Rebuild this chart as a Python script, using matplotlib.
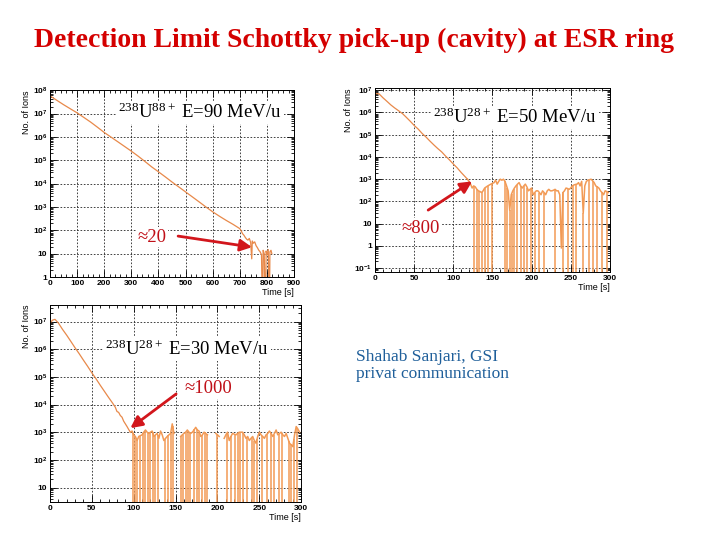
import numpy as np
import matplotlib
matplotlib.use("Agg")
import matplotlib.pyplot as plt
from matplotlib.ticker import (FixedLocator, LogLocator, MultipleLocator,
                               FuncFormatter, NullFormatter)

plt.rcParams["font.family"] = ["Liberation Sans", "DejaVu Sans"]
plt.rcParams["font.weight"] = "bold"
plt.rcParams["mathtext.fontset"] = "custom"
plt.rcParams["mathtext.rm"] = "Liberation Serif:weight=normal"
plt.rcParams["mathtext.it"] = "Liberation Serif:italic:weight=normal"
plt.rcParams["mathtext.bf"] = "Liberation Sans:bold"

D = 0.01  # dropout: signal lost, trace falls below the axis
NA = np.nan  # nothing recorded

# --- 238U88+, E = 90 MeV/u -------------------------------------------------
u90_t = [0, 25, 50, 75, 100, 125, 150, 175, 200, 225, 250, 275, 300, 325, 350,
         375, 400, 425, 450, 475, 500, 525, 550, 575, 600, 625, 650, 675, 700,
         705, 710, 715, 720, 725, 730, 735, 740, 744, 746, 750, 755, 760, 765,
         770, 775, 780, 784, 786, 790, 795, 797, 800, 805, 809, 811, 815, 818]
u90_n = [5.7e7, 3.7e7, 2.4e7, 1.6e7, 1.07e7, 6.8e6, 4.3e6, 2.6e6, 1.55e6, 9.8e5,
         6.2e5, 3.9e5, 2.45e5, 1.5e5, 8.9e4, 5.2e4, 3.2e4, 1.95e4, 1.17e4, 7.2e3,
         4.4e3, 2.7e3, 1.65e3, 1.0e3, 620, 400, 265, 180, 118,
         95, 72, 62, 50, 42, 38, 45, 30, 6, 35, 28, 32, 22, 18,
         14, 12, 9, D, 14, 10, D, 13, 9, 15, D, 12, 14, 10]

# --- 238U28+, E = 50 MeV/u -------------------------------------------------
u50_decay_t = [0, 5, 10, 15, 20, 25, 30, 35, 40, 45, 50, 55, 60, 65, 70, 75, 80,
               85, 90, 95, 100, 105, 110, 115, 118]
u50_decay_n = [7.2e6, 6.9e6, 4.6e6, 3.2e6, 2.2e6, 1.6e6, 1.2e6, 8.9e5, 6.0e5,
               4.0e5, 2.6e5, 1.8e5, 1.15e5, 7.9e4, 5.2e4, 3.5e4, 2.4e4, 1.7e4,
               1.1e4, 7.4e3, 4.8e3, 3.2e3, 2.0e3, 1.3e3, 1.0e3]
u50_noise_t = np.arange(120, 299, 2)
u50_noise_n = [800, 600, 400, 500, 450, 350, 300, 280, 250, 300,
               400, 450, 500, 550, 600, 650, 700, 900, 600, 800,
               1000, 900, 1000, 800, 500, 300, 40, 200, 300, 400,
               500, 600, 700, 500, 400, 500, 600, 450, 300, 350,
               400, 200, 250, 300, 300, 250, 200, 300, 250, 200,
               300, 350, 300, 300, 320, 350, 300, 300, 200, 0.8,
               250, 300, 400, 380, 350, 400, 500, 550, 580, 600,
               700, 500, 800, 30, 500, 800, 900, 950, 1000, 850,
               700, 500, 450, 400, 300, 250, 200, 300, 280, 250]
u50_drop_t = [127, 130, 133, 136.5, 140.5, 144.5, 150, 166, 169, 172, 174.5,
              177.5, 181, 186, 190, 194.5, 199, 204, 210, 216, 230, 240.5, 247,
              253, 256.5, 266, 273.5, 278.5, 283, 289.5, 296]

# --- 238U28+, E = 30 MeV/u -------------------------------------------------
u30_decay_t = [0, 3, 6, 10, 15, 20, 25, 30, 35, 40, 45, 50, 55, 60, 65, 70, 75,
               78, 80, 82, 84, 86, 88, 90, 92, 94, 96]
u30_decay_n = [8.7e6, 1.12e7, 1.2e7, 8.9e6, 5.2e6, 3.2e6, 1.9e6, 1.12e6, 6.8e5,
               4.0e5, 2.4e5, 1.4e5, 8.5e4, 5.0e4, 3.0e4, 1.8e4, 1.1e4, 8.0e3,
               5.6e3, 5.2e3, 4.0e3, 3.5e3, 2.5e3, 2.0e3, 1.6e3, 1.25e3, 1.0e3]
u30_noise_t = np.arange(98, 299, 2)
u30_noise_n = [1100, 800, 700, 500, 700, 750, 800, 1000, 1200, 1000,
               900, 1000, 1100, 700, 800, 900, 600, 1100, 800, 500,
               600, 700, 800, 900, 2000, 900, NA, NA, NA, 700,
               800, 900, 1000, 1200, 1000, 900, 1000, 1200, 1500, 1200,
               1100, 700, 800, 1000, 900, 800, NA, NA, NA, NA,
               900, 800, 700, NA, NA, 600, 800, 1000, 500, 700,
               900, 850, 800, 900, 1000, 1000, 1000, 800, 600, 700,
               500, 600, 700, 500, 400, 700, 1000, 800, 700, 600,
               800, 900, 1100, 900, 700, 900, 1200, 800, 900, 1000,
               800, 700, 900, 600, 400, 350, 300, 800, 1600, 1300,
               1000]
u30_drop_t = [99, 101.5, 104.5, 107.5, 111, 113.5, 116.5, 119.5, 122.5, 125.5,
              128.5, 137.5, 141.5, 144, 146.5, 156, 158.5, 162.5, 164.5, 167.5,
              172.5, 175.5, 178.5, 181.5, 184.5, 187, 200, 211, 216, 220.5,
              224, 227, 230.5, 235, 241, 244, 247, 253, 259, 264, 267, 273, 277,
              285, 287.5, 291, 295]

DECAY_COLOR = "#e8894a"
NOISE_COLOR = "#f29a55"
ARROW_RED = "#d2161c"
LABEL_RED = "#c01018"


def ion_fmt(v, pos):
    e = int(round(np.log10(v)))
    if e == 0:
        return "1"
    if e == 1:
        return "10"
    return r"$\mathbf{10^{%d}}$" % e


def style_axis(ax, xmax, xmajor, xminor, ylim):
    ax.set_yscale("log")
    ax.set_xlim(0, xmax)
    ax.set_ylim(*ylim)
    ax.xaxis.set_major_locator(MultipleLocator(xmajor))
    ax.xaxis.set_minor_locator(MultipleLocator(xminor))
    lo, hi = np.ceil(np.log10(ylim[0])), np.floor(np.log10(ylim[1]))
    ax.yaxis.set_major_locator(FixedLocator(10.0 ** np.arange(lo, hi + 1)))
    ax.yaxis.set_minor_locator(LogLocator(base=10, subs=np.arange(2, 10), numticks=30))
    ax.yaxis.set_minor_formatter(NullFormatter())
    ax.yaxis.set_major_formatter(FuncFormatter(ion_fmt))
    ax.tick_params(which="both", direction="in", top=True, right=True,
                   labelsize=6, pad=2, width=0.6)
    ax.tick_params(which="major", length=5)
    ax.tick_params(which="minor", length=2.5)
    ax.grid(True, which="major", color="#222222", ls=(0, (2, 2)), lw=0.6)
    for s in ax.spines.values():
        s.set_linewidth(0.7)
    ax.set_ylabel("No. of Ions", loc="top", fontsize=6.5, labelpad=1)
    ax.set_xlabel("Time [s]", loc="right", fontsize=6.5, labelpad=1)


def noisy_trace(ax, decay_t, decay_n, noise_t, noise_n, drop_t):
    ax.plot(decay_t, decay_n, color=DECAY_COLOR, lw=0.9)
    t = np.concatenate([[decay_t[-1]], noise_t])
    n = np.array([decay_n[-1]] + list(noise_n), dtype=float)
    ax.plot(t, n, color=NOISE_COLOR, lw=1.1)
    ok = ~np.isnan(n)
    tops = np.interp(drop_t, t[ok], n[ok])
    ax.vlines(drop_t, 1e-3, tops, color=NOISE_COLOR, lw=1.1)


def panel_label(ax, x, y, text):
    ax.text(x, y, text, transform=ax.transAxes, ha="left", va="baseline",
            fontsize=13.5, family="Liberation Serif", weight="normal", color="black",
            bbox=dict(facecolor="white", edgecolor="none", pad=1.5), zorder=5)


def approx_arrow(ax, label, label_xy, tail_xy, head_xy):
    ax.text(*label_xy, label, transform=ax.transAxes, ha="center", va="center",
            fontsize=13.5, family=["Liberation Serif", "DejaVu Serif"], weight="normal",
            color=LABEL_RED, bbox=dict(facecolor="white", edgecolor="none", pad=1), zorder=5)
    ax.annotate("", xy=head_xy, xycoords="data", xytext=tail_xy, textcoords="axes fraction",
                arrowprops=dict(arrowstyle="-|>,head_length=0.7,head_width=0.35",
                                color=ARROW_RED, lw=2.0, shrinkA=0, shrinkB=0), zorder=6)


fig = plt.figure(figsize=(7.2, 5.4), dpi=100)

ax1 = fig.add_axes([0.0694, 0.487, 0.339, 0.346])
ax2 = fig.add_axes([0.521, 0.496, 0.326, 0.341])
ax3 = fig.add_axes([0.0694, 0.0704, 0.349, 0.365])

ax1.plot(u90_t, u90_n, color=DECAY_COLOR, lw=0.9)
style_axis(ax1, 900, 100, 20, (1, 1e8))
panel_label(ax1, 0.279, 0.85, r"$^{238}$U$^{88+}$ E=90 MeV/u")
approx_arrow(ax1, "≈20", (0.418, 0.214), (0.525, 0.219), (745, 19))

noisy_trace(ax2, u50_decay_t, u50_decay_n, u50_noise_t, u50_noise_n, u50_drop_t)
style_axis(ax2, 300, 50, 10, (0.066, 1.26e7))
panel_label(ax2, 0.247, 0.81, r"$^{238}$U$^{28+}$ E=50 MeV/u")
approx_arrow(ax2, "≈800", (0.196, 0.239), (0.226, 0.337), (124, 800))

noisy_trace(ax3, u30_decay_t, u30_decay_n, u30_noise_t, u30_noise_n, u30_drop_t)
style_axis(ax3, 300, 50, 10, (3, 4e7))
panel_label(ax3, 0.219, 0.746, r"$^{238}$U$^{28+}$ E=30 MeV/u")
approx_arrow(ax3, "≈1000", (0.629, 0.574), (0.502, 0.548), (96, 1400))

fig.text(0.492, 0.926, "Detection Limit Schottky pick-up (cavity) at ESR ring",
         ha="center", va="center", fontsize=20, color="#d40000",
         family="Liberation Serif", weight="bold")
fig.text(0.494, 0.353, "Shahab Sanjari, GSI\nprivat communication",
         ha="left", va="top", fontsize=12.5, color="#1f5f9a",
         family="Liberation Serif", weight="normal", linespacing=1.05)

fig.savefig("out.png", dpi=100)
